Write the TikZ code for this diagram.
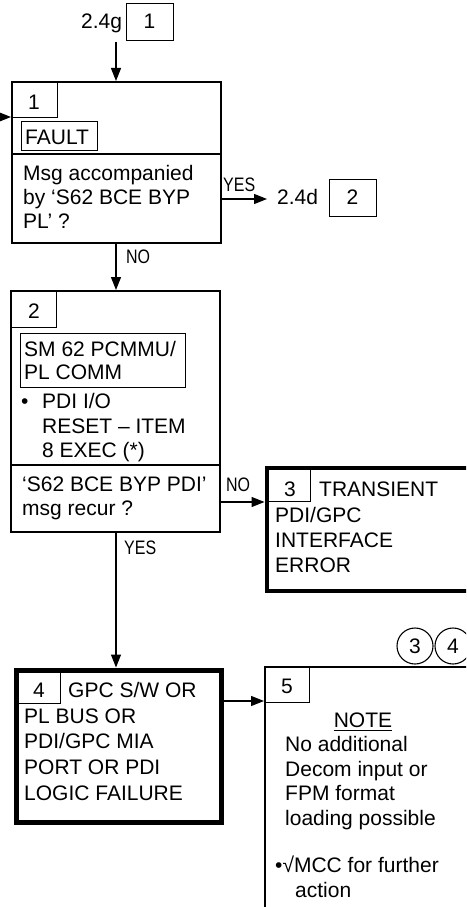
\documentclass[tikz,border=0pt]{standalone}
\usepackage{fontspec}
\setmainfont{Liberation Sans}
\newfontfamily\narrowfont[FakeStretch=0.82]{Liberation Sans}
\usetikzlibrary{arrows.meta}
\begin{document}
\begin{tikzpicture}[x=1pt,y=-1pt,
  txt/.style={inner sep=0pt, anchor=base west, font=\fontsize{21}{25}\selectfont},
  ctxt/.style={inner sep=0pt, anchor=base, font=\fontsize{21}{25}\selectfont},
  lbl/.style={inner sep=0pt, anchor=base west, font=\narrowfont\fontsize{19.5}{22}\selectfont},
  box/.style={draw, inner sep=0pt, anchor=north west},
  numbox/.style={box, line width=1.1pt},
  arr/.style={-{Triangle[length=13pt,width=10pt]}, line width=1.2pt},
  circ/.style={draw, circle, minimum size=36pt, inner sep=0pt, line width=1.1pt, font=\fontsize{21}{25}\selectfont}
 ]
\useasboundingbox (0,0) rectangle (466,907);
\clip (0,0) rectangle (466,907);

% ---- entry reference
\node[txt] (g24) at (81,29) {2.4g};
\node[numbox, minimum width=47pt, minimum height=37pt] (r1) at (126,3) {};
\node[ctxt] (r1t) at (149.5,29) {1};

% ---- box 1
\node[box, line width=1.9pt, minimum width=209pt, minimum height=161pt] (b1) at (11,81) {};
\node[numbox, minimum width=46pt, minimum height=36pt] (b1n) at (11,81) {};
\node[ctxt] (b1nt) at (34,109) {1};
\node[box, line width=1.4pt, minimum width=76pt, minimum height=29pt] (b1f) at (21,121) {};
\node[txt] (b1ft) at (25,144) {FAULT};
\coordinate (d1) at (0,154);
\draw[line width=1.4pt] (b1.west |- d1) -- (b1.east |- d1);
\node[txt] (b1a) at (23,180) {Msg accompanied};
\node[txt] (b1b) at (23,204) {by ‘S62 BCE BYP};
\node[txt] (b1c) at (23,228) {PL’ ?};

\coordinate (lin) at (-12,117);
\draw[arr] (lin) -- (lin -| b1.west);
\coordinate (c1) at (116,42);
\draw[arr] (c1) -- (c1 |- b1.north);

% ---- exit YES
\coordinate (c2) at (267,199);
\draw[arr] (b1.east |- c2) -- (c2);
\node[lbl] (yes1) at (223,191) {YES};
\node[txt] (d24) at (277,204) {2.4d};
\node[numbox, minimum width=47pt, minimum height=37pt] (r2) at (329,179) {};
\node[ctxt] (r2t) at (352.5,204) {2};

% ---- box 2
\node[box, line width=1.5pt, minimum width=209pt, minimum height=241pt] (b2) at (10,290) {};
\node[numbox, minimum width=46pt, minimum height=37pt] (b2n) at (10,290) {};
\node[ctxt] (b2nt) at (34,318) {2};
\node[box, line width=1.4pt, minimum width=165pt, minimum height=54pt] (b2s) at (20,333) {};
\node[txt] (b2sa) at (24,356) {SM 62 PCMMU/};
\node[txt] (b2sb) at (24,379) {PL COMM};
\node[txt] (b2bul) at (21,408) {•};
\node[txt] (b2a) at (42,408) {PDI I/O};
\node[txt] (b2b) at (42,433) {RESET – ITEM};
\node[txt] (b2c) at (42,457) {8 EXEC (*)};
\coordinate (d2) at (0,465);
\draw[line width=1.4pt] (b2.west |- d2) -- (b2.east |- d2);
\node[txt] (b2d) at (22,491) {‘S62 BCE BYP PDI’};
\node[txt] (b2e) at (22,515) {msg recur ?};

\draw[arr] (c1 |- b1.south) -- (c1 |- b2.north);
\node[lbl] (no1) at (126,263) {NO};

% ---- box 3
\node[box, line width=4pt, minimum width=220pt, minimum height=123pt] (b3) at (264.5,466) {};
\node[numbox, minimum width=45.5pt, minimum height=35pt] (b3n) at (264.5,466) {};
\node[ctxt] (b3nt) at (290,496) {3};
\node[txt] (b3a) at (319,496) {TRANSIENT};
\node[txt] (b3b) at (275,522) {PDI/GPC};
\node[txt] (b3c) at (275,547) {INTERFACE};
\node[txt] (b3d) at (275,572) {ERROR};
\coordinate (c3) at (0,502);
\draw[arr] (b2.east |- c3) -- (b3.west |- c3);
\node[lbl] (no2) at (226,491) {NO};

% ---- box 4
\node[box, line width=5pt, minimum width=205pt, minimum height=152pt] (b4) at (13.5,667.5) {};
\node[numbox, minimum width=44pt, minimum height=33pt] (b4n) at (16,670) {};
\node[ctxt] (b4nt) at (39,697) {4};
\node[txt] (b4a) at (68,697) {GPC S/W OR};
\node[txt] (b4b) at (24,723) {PL BUS OR};
\node[txt] (b4c) at (24,748) {PDI/GPC MIA};
\node[txt] (b4d) at (24,774) {PORT OR PDI};
\node[txt] (b4e) at (24,800) {LOGIC FAILURE};
\draw[arr] (c1 |- b2.south) -- (c1 |- b4.north);
\node[lbl] (yes2) at (124,554) {YES};

% ---- box 5
\node[box, line width=1.5pt, minimum width=220pt, minimum height=260pt] (b5) at (264,666) {};
\node[numbox, minimum width=45pt, minimum height=36pt] (b5n) at (264,666) {};
\node[ctxt] (b5nt) at (287,693) {5};
\node[ctxt] (note) at (363,727) {NOTE};
\draw[line width=1pt] ([yshift=-3pt]note.base west) -- ([yshift=-3pt]note.base east);
\node[txt] (b5a) at (285,751) {No additional};
\node[txt] (b5b) at (285,776) {Decom input or};
\node[txt] (b5c) at (285,800) {FPM format};
\node[txt] (b5d) at (285,825) {loading possible};
\node[txt] (b5e) at (275,872) {•√MCC for further};
\node[txt] (b5f) at (295,897) {action};
\coordinate (c4) at (0,701);
\draw[arr] (b4.east |- c4) -- (b5.west |- c4);

% ---- circled references
\node[circ] (k3) at (415,646) {3};
\node[circ] (k4) at (453,646) {4};
\end{tikzpicture}
\end{document}
